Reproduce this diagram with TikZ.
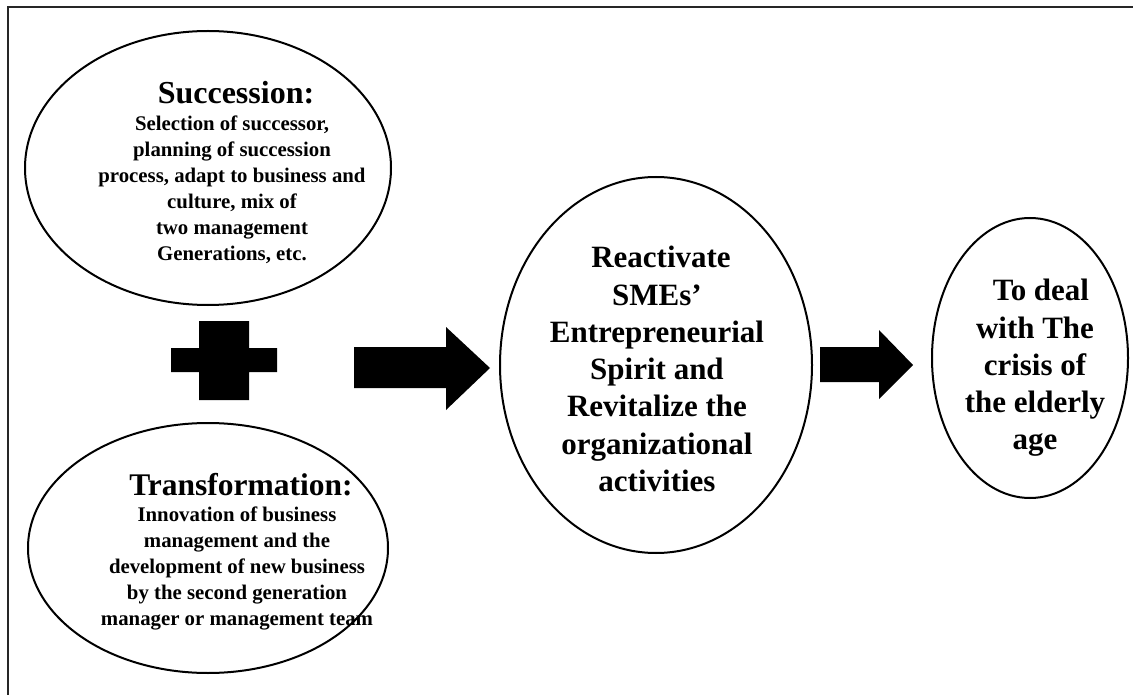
\documentclass[tikz,border=0pt]{standalone}
\usepackage{fontspec}
\setmainfont{Liberation Serif}
\usetikzlibrary{shapes.geometric}

\begin{document}
\begin{tikzpicture}[x=1pt,y=-1pt]
	\useasboundingbox (0,0) rectangle (1133,695);
	\clip (0,0) rectangle (1133,695);
	\fill[white] (0,0) rectangle (1133,695);
	\draw[line width=1.5pt,black!85] (8,7) rectangle (1150,710);

	\begin{scope}[every node/.style={ellipse,draw,line width=2pt,inner sep=0pt}]
		\node[minimum width=366pt,minimum height=274pt] (succ) at (208,168) {};
		\node[minimum width=360pt,minimum height=250pt] (trans) at (208,548) {};
		\node[minimum width=312pt,minimum height=376pt] (spirit) at (656,365) {};
		\node[minimum width=196pt,minimum height=280pt] (crisis) at (1030,358) {};
	\end{scope}

	\begin{scope}[every node/.style={align=center,inner sep=0pt,font=\bfseries}]
		\node[font=\bfseries\fontsize{32}{34}\selectfont] (succT) at (236,93) {Succession:};
		\node[font=\bfseries\fontsize{20.8}{26}\selectfont] (succB) at (232,190)
			{Selection of successor,\\ planning of succession\\ process, adapt to business and\\
			 culture, mix of\\ two management\\ Generations, etc.};
		\node[font=\bfseries\fontsize{31.5}{34}\selectfont] (transT) at (241,485) {Transformation:};
		\node[font=\bfseries\fontsize{20.8}{26}\selectfont] (transB) at (237,568)
			{Innovation of business\\ management and the\\ development of new business\\
			 by the second generation\\ manager or management team};
		\node[font=\bfseries\fontsize{31}{37.3}\selectfont] (spiritT) at (657,369)
			{\hspace*{8pt}Reactivate\\ SMEs’\\ Entrepreneurial\\ Spirit and\\ Revitalize the\\ organizational\\ activities};
		\node[font=\bfseries\fontsize{31}{37.3}\selectfont] (crisisT) at (1035,368)
			{\hspace*{12pt}To deal\\ with The\\ crisis of\\ the elderly\\ age};
	\end{scope}

	% plus sign
	\fill (171,348) -- (199,348) -- (199,321) -- (249,321) -- (249,348) -- (277,348) -- (277,372)
		-- (249,372) -- (249,400) -- (199,400) -- (199,372) -- (171,372) -- cycle;

	% block arrows
	\fill (354,347) -- (446,347) -- (446,327) -- (490,368) -- (446,410) -- (446,388) -- (354,388) -- cycle;
	\fill (820,347) -- (879,347) -- (879,330) -- (913,365) -- (879,399) -- (879,382) -- (820,382) -- cycle;
\end{tikzpicture}
\end{document}
